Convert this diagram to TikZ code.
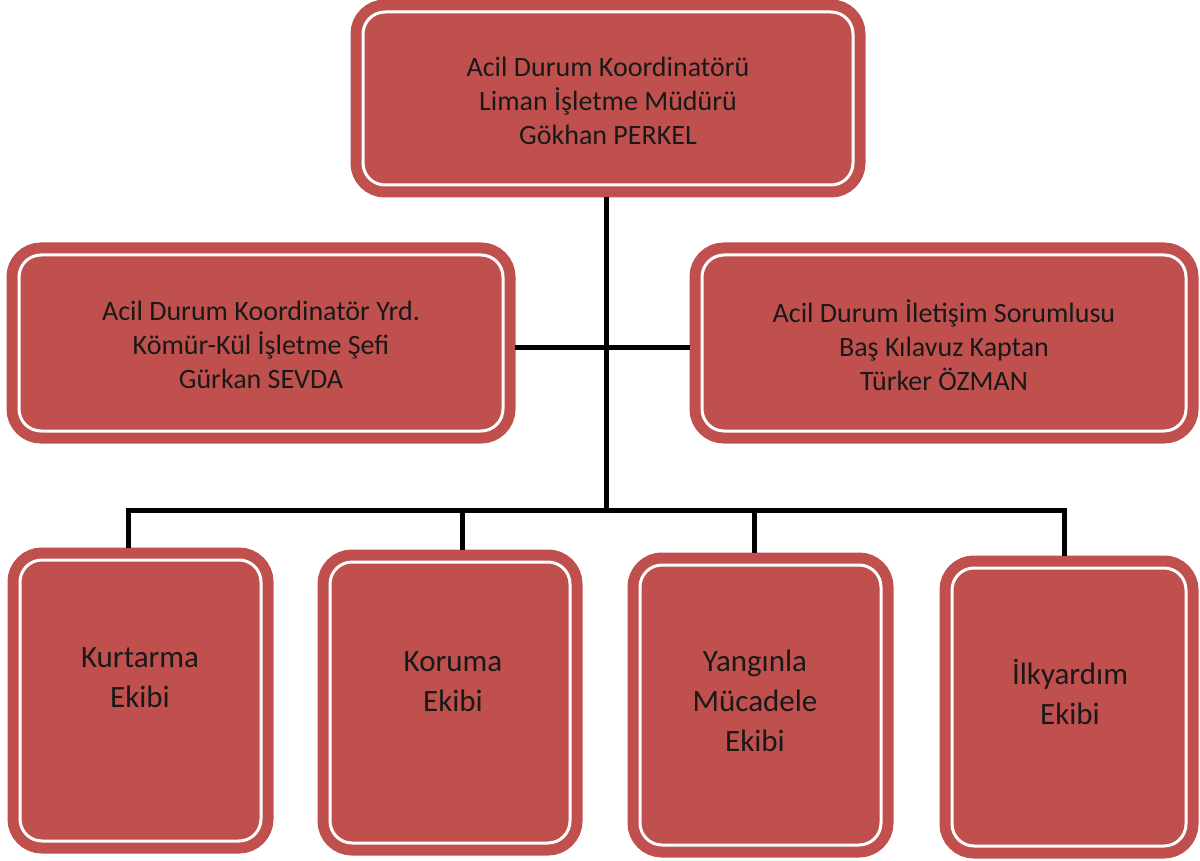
\documentclass[tikz,border=0pt]{standalone}
\usepackage{fontspec}
\setmainfont{Carlito}
\definecolor{boxred}{HTML}{C0504D}
\begin{document}
\begin{tikzpicture}[x=1pt,y=-1pt,
  redbox/.style={rectangle, fill=boxred, draw=white, line width=3pt,
    rounded corners=22pt, inner sep=0pt, outer sep=12pt,
    preaction={draw=boxred, line width=25pt}},
  headtxt/.style={align=center, font=\fontsize{28}{34}\selectfont, text=black!90},
  teamtxt/.style={align=center, font=\fontsize{31}{40}\selectfont, text=black!90},
  conn/.style={draw=black, line width=5pt}]
\useasboundingbox (0,0) rectangle (1200,861);
% boxes
\node[redbox, minimum width=490pt, minimum height=173pt] (top) at (608,98.5) {};
\node[redbox, minimum width=484pt, minimum height=176pt] (left) at (261,343) {};
\node[redbox, minimum width=484pt, minimum height=176pt] (right) at (944,343) {};
\node[redbox, minimum width=241pt, minimum height=281pt] (b1) at (140.5,700.5) {};
\node[redbox, minimum width=240pt, minimum height=281pt] (b2) at (450,702.5) {};
\node[redbox, minimum width=241pt, minimum height=280pt] (b3) at (760.5,705) {};
\node[redbox, minimum width=234pt, minimum height=278pt] (b4) at (1069,707) {};
% texts
\node[headtxt] (ttop) at (608,101) {Acil Durum Koordinatörü\\Liman İşletme Müdürü\\Gökhan PERKEL};
\node[headtxt] (tleft) at (261,345) {Acil Durum Koordinatör Yrd.\\Kömür-Kül İşletme Şefi\\Gürkan SEVDA};
\node[headtxt] (tright) at (944,345) {Acil Durum İletişim Sorumlusu\\Baş Kılavuz Kaptan\\Türker ÖZMAN};
\node[teamtxt] (t1) at (140,678) {Kurtarma\\Ekibi};
\node[teamtxt] (t2) at (453,682) {Koruma\\Ekibi};
\node[teamtxt] (t3) at (755,701) {Yangınla\\Mücadele\\Ekibi};
\node[teamtxt] (t4) at (1070,692) {İlkyardım\\Ekibi};
% connectors
\coordinate (bus) at (606,510);
\coordinate (mid) at (606,347);
\coordinate (d1) at (128,510);
\coordinate (d2) at (462,510);
\coordinate (d3) at (754,510);
\coordinate (d4) at (1064,510);
\draw[conn] (top.south -| bus) -- (bus);
\draw[conn] (left.east |- mid) -- (right.west |- mid);
\draw[conn, line cap=rect] (d1) -- (d4);
\draw[conn] (d1) -- (d1 |- b1.north);
\draw[conn] (d2) -- (d2 |- b2.north);
\draw[conn] (d3) -- (d3 |- b3.north);
\draw[conn] (d4) -- (d4 |- b4.north);
\end{tikzpicture}
\end{document}
